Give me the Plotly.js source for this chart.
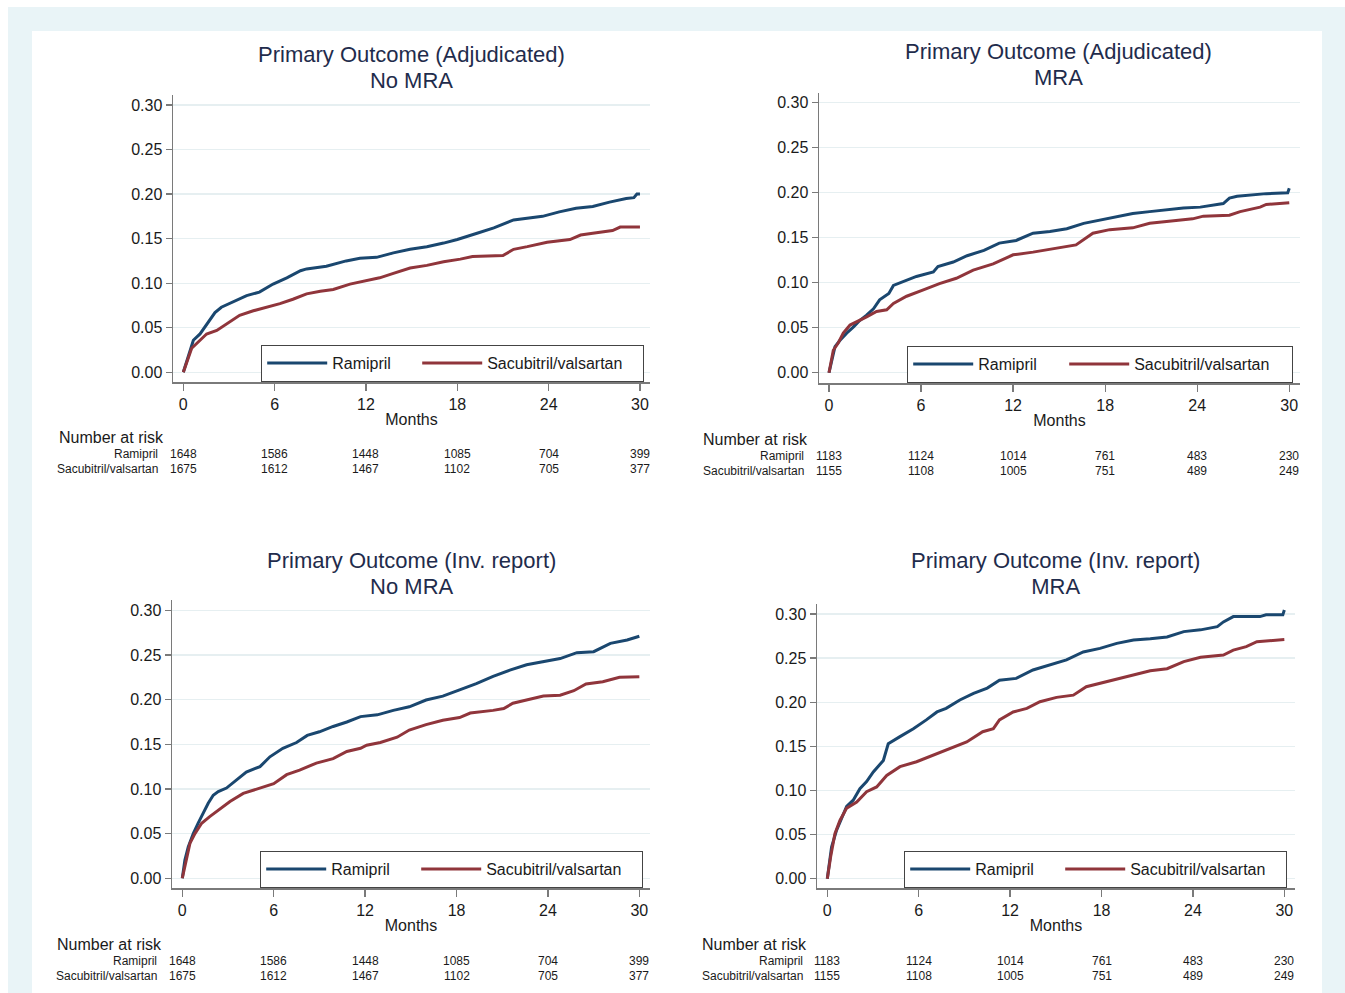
<!DOCTYPE html>
<html><head><meta charset="utf-8">
<script src="https://cdn.plot.ly/plotly-3.0.1.min.js"></script>
<style>html,body{margin:0;padding:0;background:#fff;overflow:hidden}</style>
</head><body><div id="chart" style="width:1345px;height:993px"></div>
<script>
// ---------- DATA ----------
const seriesNames = ["Ramipril", "Sacubitril/valsartan"];
const xTickVals = [0, 6, 12, 18, 24, 30];
const yTickVals = [0, 0.05, 0.10, 0.15, 0.20, 0.25, 0.30];
const panelTitles1 = ["Primary Outcome (Adjudicated)", "Primary Outcome (Adjudicated)", "Primary Outcome (Inv. report)", "Primary Outcome (Inv. report)"];
const panelTitles2 = ["No MRA", "MRA", "No MRA", "MRA"];

// Panel 1: Adjudicated, No MRA
const adjNoMraRamMonths = [0,0.44,0.66,1.1,1.53,2.08,2.5,3.3,4.16,5.0,5.9,6.8,7.7,8.1,9.4,10.7,11.6,12.7,13.8,14.9,16.0,17.1,18.0,19.3,20.4,21.7,22.6,23.6,24.7,25.8,26.9,28.0,29.1,29.6,29.8,30];
const adjNoMraRamRisk   = [0,0.025,0.036,0.043,0.054,0.067,0.073,0.079,0.086,0.090,0.099,0.106,0.114,0.116,0.119,0.125,0.128,0.129,0.134,0.138,0.141,0.145,0.149,0.156,0.162,0.171,0.173,0.175,0.180,0.184,0.186,0.191,0.195,0.196,0.200,0.200];
const adjNoMraSacMonths = [0,0.33,0.55,1.1,1.53,2.2,2.85,3.7,4.6,5.5,6.35,7.2,8.1,9.0,9.85,10.95,12.0,12.9,13.8,14.9,16.0,17.1,18.2,19.0,21.0,21.7,22.6,23.9,25.4,26.1,26.9,28.2,28.7,30];
const adjNoMraSacRisk   = [0,0.017,0.027,0.036,0.043,0.047,0.054,0.064,0.069,0.073,0.077,0.082,0.088,0.091,0.093,0.099,0.103,0.106,0.111,0.117,0.120,0.124,0.127,0.130,0.131,0.138,0.141,0.146,0.149,0.154,0.156,0.159,0.163,0.163];

// Panel 2: Adjudicated, MRA
const adjMraRamMonths = [0,0.17,0.39,0.72,1.15,1.6,2.0,2.45,2.9,3.3,3.9,4.2,4.8,5.7,6.8,7.1,8.1,9.0,10.1,11.1,12.2,13.3,14.4,15.5,16.6,17.7,18.7,19.8,20.9,22.0,23.1,24.2,25.7,26.1,26.6,28.5,29.9,30];
const adjMraRamRisk   = [0,0.014,0.029,0.036,0.044,0.051,0.058,0.064,0.071,0.081,0.088,0.097,0.101,0.107,0.112,0.118,0.123,0.130,0.136,0.144,0.147,0.155,0.157,0.160,0.166,0.170,0.173,0.177,0.179,0.181,0.183,0.184,0.188,0.194,0.196,0.199,0.200,0.205];
const adjMraSacMonths = [0,0.28,0.6,0.93,1.37,1.9,2.45,3.1,3.76,4.2,5.06,6.15,7.2,8.3,9.4,10.7,12.0,13.3,14.6,16.1,17.2,18.3,19.8,20.9,22.0,23.7,24.4,26.1,26.8,28.1,28.5,30];
const adjMraSacRisk   = [0,0.025,0.033,0.044,0.053,0.057,0.062,0.068,0.070,0.077,0.085,0.092,0.099,0.105,0.114,0.121,0.131,0.134,0.138,0.142,0.155,0.159,0.161,0.166,0.168,0.171,0.174,0.175,0.179,0.184,0.187,0.189];

// Panel 3: Investigator report, No MRA
const invNoMraRamMonths = [0,0.17,0.39,0.72,1.05,1.38,1.7,2.03,2.36,2.9,3.57,4.2,5.1,5.75,6.6,7.5,8.2,9.0,9.9,10.8,11.7,12.8,13.85,14.9,16.0,17.1,18.2,19.3,20.4,21.5,22.6,23.7,24.8,25.9,27.0,28.1,29.2,30];
const invNoMraRamRisk   = [0,0.0205,0.035,0.050,0.062,0.073,0.084,0.093,0.097,0.101,0.110,0.119,0.125,0.136,0.1455,0.152,0.160,0.164,0.170,0.175,0.181,0.183,0.188,0.192,0.1996,0.204,0.211,0.218,0.226,0.233,0.239,0.2425,0.246,0.2526,0.2537,0.263,0.2668,0.271];
const invNoMraSacMonths = [0,0.28,0.5,0.83,1.27,1.8,2.47,3.13,4.0,5.1,6.0,6.85,7.7,8.8,9.9,10.8,11.7,12.1,13.0,14.1,14.9,16.0,17.1,18.2,18.9,20.4,21.1,21.7,22.6,23.7,24.8,25.7,26.5,27.6,28.7,30];
const invNoMraSacRisk   = [0,0.0205,0.039,0.050,0.0616,0.069,0.078,0.086,0.095,0.1007,0.106,0.116,0.121,0.129,0.134,0.142,0.1455,0.149,0.152,0.158,0.166,0.172,0.177,0.180,0.185,0.188,0.190,0.196,0.1996,0.204,0.205,0.210,0.2175,0.220,0.225,0.2257];

// Panel 4: Investigator report, MRA
const invMraRamMonths = [0,0.18,0.28,0.61,0.94,1.27,1.7,2.14,2.58,3.02,3.68,4.0,4.77,5.65,6.5,7.2,7.8,8.7,9.6,10.5,11.3,12.4,13.5,14.6,15.7,16.8,17.9,19.0,20.1,21.2,22.3,23.4,24.5,25.6,26.0,26.65,28.4,28.8,29.9,30];
const invMraRamRisk   = [0,0.021,0.036,0.055,0.068,0.082,0.089,0.102,0.110,0.121,0.134,0.153,0.161,0.170,0.180,0.189,0.193,0.2025,0.210,0.216,0.225,0.227,0.2365,0.242,0.248,0.257,0.261,0.2667,0.2705,0.272,0.274,0.280,0.282,0.2856,0.291,0.297,0.297,0.299,0.299,0.3045];
const invMraSacMonths = [0,0.22,0.5,0.83,1.27,1.93,2.58,3.24,3.9,4.77,5.86,6.96,8.05,9.15,10.2,10.9,11.3,12.2,13.1,13.96,15.05,16.15,17.0,17.9,19.0,20.1,21.2,22.3,23.4,24.5,26.0,26.65,27.5,28.2,29.9,30];
const invMraSacRisk   = [0,0.025,0.051,0.066,0.080,0.087,0.0986,0.104,0.117,0.127,0.1326,0.140,0.148,0.155,0.1666,0.170,0.180,0.189,0.193,0.2006,0.2055,0.208,0.2176,0.2214,0.226,0.231,0.2357,0.238,0.246,0.251,0.2535,0.259,0.263,0.2686,0.271,0.271];

// Number at risk
const noMraAtRiskRam = [1648, 1586, 1448, 1085, 704, 399];
const noMraAtRiskSac = [1675, 1612, 1467, 1102, 705, 377];
const mraAtRiskRam   = [1183, 1124, 1014, 761, 483, 230];
const mraAtRiskSac   = [1155, 1108, 1005, 751, 489, 249];

// ---------- LAYOUT HELPERS ----------
const W = 1345, H = 993;
const px = x => x / W;
const py = y => 1 - y / H;
const FONT = '"Liberation Sans", Arial, Helvetica, sans-serif';
const BLUE = '#1a476f', RED = '#90353b';
const AXC = '#7a7a7a', GRID = '#e6eff1', TXT = '#1a1a1a', TITLEC = '#1f2c4c';

const panels = [
  {ram:[adjNoMraRamMonths,adjNoMraRamRisk], sac:[adjNoMraSacMonths,adjNoMraSacRisk], atR:noMraAtRiskRam, atS:noMraAtRiskSac,
   dx:[173,650], dy:[95,382], xr:[-0.677,30.66], yr:[-0.0109,0.3112], tc:411, tm:67,
   leg:[261,345], legW:[80,150], nar:[57,437], lblR:160, r1:454, r2:469},
  {ram:[adjMraRamMonths,adjMraRamRisk], sac:[adjMraSacMonths,adjMraSacRisk], atR:mraAtRiskRam, atS:mraAtRiskSac,
   dx:[819,1300], dy:[93,383], xr:[-0.652,30.7], yr:[-0.0114,0.3108], tc:1058, tm:64,
   leg:[907,346], legW:[81,152], nar:[701,439], lblR:806, r1:456, r2:471},
  {ram:[invNoMraRamMonths,invNoMraRamRisk], sac:[invNoMraSacMonths,invNoMraSacRisk], atR:noMraAtRiskRam, atS:noMraAtRiskSac,
   dx:[172,650], dy:[600,888], xr:[-0.676,30.7], yr:[-0.0109,0.3116], tc:411, tm:573,
   leg:[260,851], legW:[80,150], nar:[55,944], lblR:159, r1:961, r2:976},
  {ram:[invMraRamMonths,invMraRamRisk], sac:[invMraSacMonths,invMraSacRisk], atR:mraAtRiskRam, atS:mraAtRiskSac,
   dx:[817,1295], dy:[604,888], xr:[-0.676,30.7], yr:[-0.0105,0.3113], tc:1055, tm:573,
   leg:[904,851], legW:[80,150], nar:[700,944], lblR:805, r1:961, r2:976}
];

const data = [];
const layout = {
  width: W, height: H,
  margin: {l:0, r:0, t:0, b:0, pad:0, autoexpand:false},
  paper_bgcolor: '#ffffff',
  plot_bgcolor: 'rgba(0,0,0,0)',
  font: {family: FONT, color: TXT, size: 16},
  showlegend: true,
  annotations: [],
  shapes: [
    {type:'rect', xref:'paper', yref:'paper', x0:px(8), x1:px(1345), y0:py(993), y1:py(7), fillcolor:'#e9f4f7', line:{width:0}, layer:'below'},
    {type:'rect', xref:'paper', yref:'paper', x0:px(32), x1:px(1322), y0:py(993), y1:py(31), fillcolor:'#ffffff', line:{width:0}, layer:'below'}
  ]
};

panels.forEach((p, i) => {
  const n = i + 1;
  const xa = n === 1 ? 'x' : 'x' + n;
  const ya = n === 1 ? 'y' : 'y' + n;
  const lg = n === 1 ? 'legend' : 'legend' + n;
  data.push({x:p.ram[0], y:p.ram[1], type:'scatter', mode:'lines', name:seriesNames[0],
    line:{color:BLUE, width:3}, xaxis:xa, yaxis:ya, legend:lg, legendwidth:p.legW[0], hoverinfo:'skip'});
  data.push({x:p.sac[0], y:p.sac[1], type:'scatter', mode:'lines', name:seriesNames[1],
    line:{color:RED, width:3}, xaxis:xa, yaxis:ya, legend:lg, legendwidth:p.legW[1], hoverinfo:'skip'});

  layout['xaxis' + (n === 1 ? '' : n)] = {
    domain:[px(p.dx[0]), px(p.dx[1])], range:p.xr, anchor:ya, automargin:false,
    tickvals:xTickVals, ticktext:xTickVals.map(String), ticks:'outside', ticklen:7, tickwidth:1.3, tickcolor:AXC,
    showline:true, linecolor:AXC, linewidth:1.5, showgrid:false, zeroline:false,
    tickfont:{size:16, color:TXT, family:FONT},
    title:{text:'Months', font:{size:16, color:TXT, family:FONT}, standoff:2}
  };
  layout['yaxis' + (n === 1 ? '' : n)] = {
    domain:[py(p.dy[1]), py(p.dy[0])], range:p.yr, anchor:xa, automargin:false,
    tickvals:yTickVals, tickformat:'.2f', ticks:'outside', ticklen:6, tickwidth:1.3, tickcolor:AXC,
    showline:true, linecolor:AXC, linewidth:1.5, showgrid:true, gridcolor:GRID, gridwidth:1.2, zeroline:false,
    tickfont:{size:16, color:TXT, family:FONT}
  };
  layout[lg] = {
    orientation:'h', x:px(p.leg[0]), y:py(p.leg[1]), xanchor:'left', yanchor:'top',
    xref:'paper', yref:'paper',
    bgcolor:'#ffffff', bordercolor:'#444444', borderwidth:1.2,
    font:{size:16, color:TXT, family:FONT}, itemwidth:60, traceorder:'normal'
  };

  const A = layout.annotations;
  A.push({xref:'paper', yref:'paper', x:px(p.tc), y:py(p.tm),
    text:'<span style="font-size:22px">' + panelTitles1[i] + '</span><br><span style="font-size:22px">' + panelTitles2[i] + '</span>',
    showarrow:false, xanchor:'center', yanchor:'middle', align:'center', font:{size:20, color:TITLEC, family:FONT}});
  A.push({xref:'paper', yref:'paper', x:px(p.nar[0]), y:py(p.nar[1]), text:'Number at risk', showarrow:false,
    xanchor:'left', yanchor:'middle', font:{size:16, color:TXT, family:FONT}});
  A.push({xref:'paper', yref:'paper', x:px(p.lblR), y:py(p.r1), text:seriesNames[0], showarrow:false,
    xanchor:'right', yanchor:'middle', font:{size:12, color:TXT, family:FONT}});
  A.push({xref:'paper', yref:'paper', x:px(p.lblR), y:py(p.r2), text:seriesNames[1], showarrow:false,
    xanchor:'right', yanchor:'middle', font:{size:12, color:TXT, family:FONT}});
  xTickVals.forEach((t, k) => {
    A.push({xref:xa, yref:'paper', x:t, y:py(p.r1), text:String(p.atR[k]), showarrow:false,
      xanchor:'center', yanchor:'middle', font:{size:12, color:TXT, family:FONT}});
    A.push({xref:xa, yref:'paper', x:t, y:py(p.r2), text:String(p.atS[k]), showarrow:false,
      xanchor:'center', yanchor:'middle', font:{size:12, color:TXT, family:FONT}});
  });
});

Plotly.newPlot('chart', data, layout, {staticPlot:true, displayModeBar:false});
</script></body></html>
